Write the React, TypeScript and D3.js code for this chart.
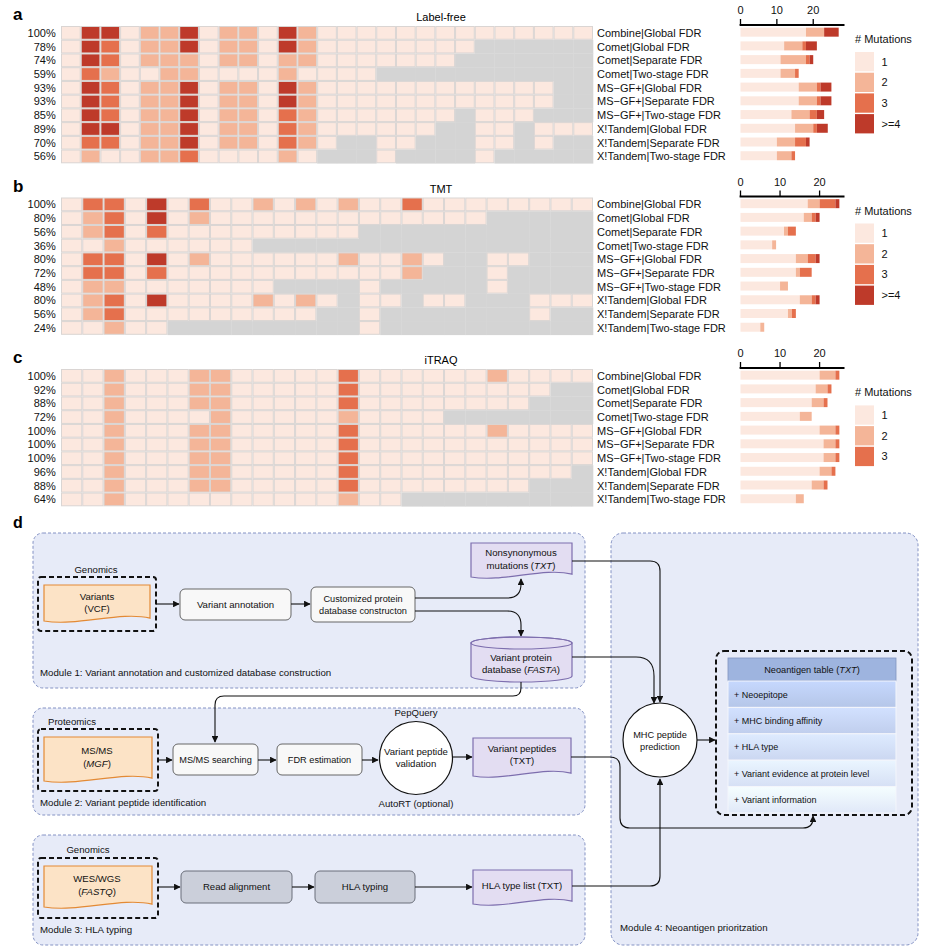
import React from "react";
import * as d3 from "d3";

const FONT = "'Liberation Sans', Arial, Helvetica, sans-serif";

const methodLabels = [
  "Combine|Global FDR", "Comet|Global FDR", "Comet|Separate FDR", "Comet|Two-stage FDR",
  "MS\u2212GF+|Global FDR", "MS\u2212GF+|Separate FDR", "MS\u2212GF+|Two-stage FDR",
  "X!Tandem|Global FDR", "X!Tandem|Separate FDR", "X!Tandem|Two-stage FDR",
];

const panelLetters = ["a", "b", "c"];
const panelTitles = ["Label-free", "TMT", "iTRAQ"];

const labelFreePct = ["100%", "78%", "74%", "59%", "93%", "93%", "85%", "89%", "70%", "56%"];
const tmtPct = ["100%", "80%", "56%", "36%", "80%", "72%", "48%", "80%", "56%", "24%"];
const itraqPct = ["100%", "92%", "88%", "72%", "100%", "100%", "100%", "96%", "88%", "64%"];

// 0 = not identified (grey); 1..4 = number of mutations (4 means >=4)
const labelFreeMatrix = [
  [1,4,4,1,2,2,4,1,2,2,1,4,2,1,1,1,1,1,1,1,1,1,1,1,1,1,1],
  [1,4,3,1,2,2,4,1,2,2,1,4,2,1,1,1,1,1,1,1,1,0,0,0,0,0,0],
  [1,4,3,1,2,2,2,1,2,2,1,2,2,1,1,1,1,1,1,1,0,0,0,0,0,0,0],
  [1,3,2,1,1,2,2,1,1,1,1,2,1,1,1,1,0,0,0,0,0,0,0,0,0,0,0],
  [1,4,3,1,2,2,4,1,2,2,1,4,2,1,1,1,1,1,1,1,1,1,1,1,1,0,0],
  [1,4,3,1,2,2,4,1,2,2,1,4,2,1,1,1,1,1,1,1,1,1,1,1,1,0,0],
  [1,4,3,1,2,2,4,1,2,2,1,3,2,1,1,1,1,1,1,1,0,1,1,1,0,0,0],
  [1,4,4,1,2,2,4,1,2,2,1,3,2,1,1,1,1,1,1,0,0,1,1,0,1,1,1],
  [1,3,3,1,2,2,4,1,2,2,1,3,2,1,0,0,1,1,0,0,0,1,1,0,1,0,0],
  [1,2,1,1,2,2,3,1,1,1,1,2,1,0,0,0,1,0,0,0,0,1,0,0,0,0,0],
];

const tmtMatrix = [
  [1,3,3,1,4,1,3,1,1,2,1,2,1,2,1,1,3,1,1,1,1,1,1,1,1],
  [1,2,3,1,4,1,2,1,1,1,1,1,1,1,1,1,1,1,1,1,0,0,0,0,0],
  [1,2,3,1,3,1,1,1,1,1,1,1,1,1,0,0,0,0,0,0,0,0,0,0,0],
  [1,1,2,1,1,1,1,1,1,0,0,0,0,0,0,0,0,0,0,0,0,0,0,0,0],
  [1,3,3,1,4,1,2,1,1,1,1,1,1,2,1,1,2,1,0,0,1,1,0,0,0],
  [1,3,3,1,3,1,1,1,1,1,1,1,1,1,1,1,2,0,0,0,1,0,0,0,0],
  [1,2,2,1,1,1,1,1,1,1,0,0,0,0,1,0,0,0,0,0,1,0,0,0,0],
  [1,2,3,1,4,1,1,1,1,2,1,2,1,0,1,1,0,1,1,0,0,0,1,1,1],
  [1,2,3,1,1,1,1,1,1,1,1,1,0,0,1,0,0,0,0,0,0,0,1,0,0],
  [1,1,2,1,1,0,0,0,0,0,0,0,0,0,1,0,0,0,0,0,0,0,0,0,0],
];

const itraqMatrix = [
  [1,1,2,1,1,1,2,2,1,1,1,1,1,3,1,1,1,1,1,1,2,1,1,1,1],
  [1,1,2,1,1,1,2,2,1,1,1,1,1,3,1,1,1,1,1,1,1,1,1,0,0],
  [1,1,2,1,1,1,2,2,1,1,1,1,1,3,1,1,1,1,1,1,1,1,0,0,0],
  [1,1,2,1,1,1,1,2,1,1,1,1,1,2,1,1,1,1,0,0,0,0,0,0,0],
  [1,1,2,1,1,1,2,2,1,1,1,1,1,3,1,1,1,1,1,1,2,1,1,1,1],
  [1,1,2,1,1,1,2,2,1,1,1,1,1,3,1,1,1,1,1,1,1,1,1,1,1],
  [1,1,2,1,1,1,2,2,1,1,1,1,1,3,1,1,1,1,1,1,1,1,1,1,1],
  [1,1,2,1,1,1,2,2,1,1,1,1,1,3,1,1,1,1,1,1,1,1,1,1,0],
  [1,1,2,1,1,1,2,2,1,1,1,1,1,3,1,1,1,1,1,1,1,1,0,0,0],
  [1,1,2,1,1,1,1,1,1,1,1,1,1,2,1,1,0,0,0,0,0,0,0,0,0],
];

const legendFour = ["1", "2", "3", ">=4"];
const legendThree = ["1", "2", "3"];
const axisTicks = [0, 10, 20];
const axisMaxes = [28.6, 26.3, 26.3];

const levelColors = ["#D4D4D4", "#FCE8DF", "#F4B598", "#E5704D", "#BE3A2A"];

type PanelProps = {
  letter: string; title: string; matrix: number[][]; pcts: string[];
  legend: string[]; top: number; axisMax: number;
};

function HeatPanel({ letter, title, matrix, pcts, legend, top, axisMax }: PanelProps) {
  const nCols = matrix[0].length;
  const nRows = matrix.length;
  const x = d3.scaleBand<number>().domain(d3.range(nCols)).range([61, 593]);
  const y = d3.scaleBand<number>().domain(d3.range(nRows)).range([top, top + 137.3]);
  const xb = d3.scaleLinear().domain([0, axisMax]).range([740.5, 844.5]);
  const keys = legend.map((_, i) => String(i + 1));
  const counts = matrix.map((row) => {
    const o: any = {};
    keys.forEach((k) => (o[k] = row.filter((v) => v === +k).length));
    return o;
  });
  const series = d3.stack<any>().keys(keys)(counts);
  const axisY = top - 1;
  const bh = 9;
  const legTop = top + 26 + (4 - legend.length) * 10.4;
  const cells: any[] = [];
  matrix.forEach((row, r) => row.forEach((v, c) => cells.push({ r, c, v })));
  return (
    <g>
      <text x={13} y={top - 6} fontSize={17} fontWeight="bold" fontFamily={FONT}>{letter}</text>
      <text x={441} y={top - 5} fontSize={11} textAnchor="middle" fontFamily={FONT}>{title}</text>
      {cells.filter((d) => d.v === 0).map((d) => (
        <rect key={`g${d.r}-${d.c}`} x={x(d.c)} y={y(d.r)} width={x.bandwidth() + 0.3} height={y.bandwidth() + 0.3}
          fill={levelColors[0]} />
      ))}
      {cells.filter((d) => d.v > 0).map((d) => (
        <rect key={`c${d.r}-${d.c}`} x={x(d.c)! + 0.5} y={y(d.r)! + 0.5} width={x.bandwidth() - 1} height={y.bandwidth() - 1}
          fill={levelColors[d.v]} stroke="#DAD5D3" strokeWidth={1} />
      ))}
      {pcts.map((p, i) => (
        <text key={p + i} x={55.7} y={y(i)! + y.bandwidth() / 2} dy="0.36em" textAnchor="end" fontSize={11} fontFamily={FONT} fill="#111">{p}</text>
      ))}
      {methodLabels.map((m, i) => (
        <text key={m} x={597} y={y(i)! + y.bandwidth() / 2} dy="0.36em" fontSize={11} fontFamily={FONT} fill="#111">{m}</text>
      ))}
      <line x1={xb(0) - 0.9} x2={xb(axisMax)} y1={axisY} y2={axisY} stroke="#000" strokeWidth={1.8} />
      {axisTicks.map((t) => (
        <g key={t}>
          <line x1={xb(t)} x2={xb(t)} y1={axisY} y2={axisY - 6} stroke="#000" strokeWidth={1.3} />
          <text x={xb(t)} y={axisY - 11} textAnchor="middle" fontSize={11} fontFamily={FONT} fill="#111">{t}</text>
        </g>
      ))}
      {series.map((s, si) => s.map((d, i) => (
        d[1] > d[0] ? (
          <rect key={`b${si}-${i}`} x={xb(d[0])} y={y(i)! + (y.bandwidth() - bh) / 2 - 0.7} width={xb(d[1]) - xb(d[0])} height={bh}
            fill={levelColors[si + 1]} />
        ) : null
      )))}
      <text x={855} y={legTop - 9} fontSize={11} fontFamily={FONT} fill="#111">{"# Mutations"}</text>
      {legend.map((l, i) => (
        <g key={l}>
          <rect x={855} y={legTop + i * 20.7} width={19} height={19.3} fill={levelColors[i + 1]} />
          <text x={881.5} y={legTop + i * 20.7 + 9.6} dy="0.36em" fontSize={11} fontFamily={FONT} fill="#111">{l}</text>
        </g>
      ))}
    </g>
  );
}

function docPath(x: number, y: number, w: number, h: number) {
  const d = 4;
  return `M${x},${y} H${x + w} V${y + h - d * 1.2} C${x + w * 0.72},${y + h - d * 3} ${x + w * 0.32},${y + h + d * 0.9} ${x},${y + h - d * 0.5} Z`;
}

function cylPath(x: number, y: number, w: number, h: number, ry: number) {
  return `M${x},${y + ry} V${y + h - ry} A${w / 2},${ry} 0 0 0 ${x + w},${y + h - ry} V${y + ry} A${w / 2},${ry} 0 0 0 ${x},${y + ry} Z`;
}

const ORANGE_FILL = "#FCE3C6";
const ORANGE_STROKE = "#E38A35";
const PURPLE_FILL = "#E3DDF2";
const PURPLE_STROKE = "#7D6EAE";
const MOD_FILL = "#E7EBF8";
const MOD_STROKE = "#8492C4";
const FS = 9.6;

function T({ x, y, children, size = FS, anchor = "middle", weight = "normal" }: any) {
  return (
    <text x={x} y={y} fontSize={size} textAnchor={anchor} fontWeight={weight} fontFamily={FONT} fill="#111">{children}</text>
  );
}

function Box({ x, y, w, h, fill = "#F8F8F8", stroke = "#666" }: any) {
  return <rect x={x} y={y} width={w} height={h} rx={5} fill={fill} stroke={stroke} strokeWidth={1} />;
}

const neoRows = ["+ Neoepitope", "+ MHC binding affinity", "+ HLA type", "+ Variant evidence at protein level", "+ Variant information"];
const neoRowColors = ["#B5C6E8", "#C0CEED", "#CBD7F1", "#D6E0F5", "#E0E8F8"];

function PanelD() {
  const A = "url(#arr)";
  const ln = { fill: "none", stroke: "#111", strokeWidth: 1.1 } as any;
  return (
    <g>
      <defs>
        <marker id="arr" viewBox="0 0 10 10" refX="9" refY="5" markerWidth="6" markerHeight="6" orient="auto-start-reverse">
          <path d="M0,0 L10,5 L0,10 z" fill="#111" />
        </marker>
        {neoRowColors.map((c, i) => (
          <linearGradient key={i} id={`ng${i}`} x1="0" y1="0" x2="0" y2="1">
            <stop offset="0" stopColor={d3.color(c)!.brighter(0.25).toString()} />
            <stop offset="1" stopColor={c} />
          </linearGradient>
        ))}
      </defs>
      <text x={13} y={528} fontSize={16} fontWeight="bold" fontFamily={FONT}>d</text>

      <rect x={33} y={533} width={552} height={155} rx={10} fill={MOD_FILL} stroke={MOD_STROKE} strokeDasharray="3,2" />
      <rect x={33} y={708} width={552} height={107} rx={10} fill={MOD_FILL} stroke={MOD_STROKE} strokeDasharray="3,2" />
      <rect x={33} y={835} width={552} height={110} rx={10} fill={MOD_FILL} stroke={MOD_STROKE} strokeDasharray="3,2" />
      <rect x={611} y={533} width={307} height={412} rx={12} fill={MOD_FILL} stroke={MOD_STROKE} strokeDasharray="3,2" />

      {/* Module 1 */}
      <T x={96} y={573}>Genomics</T>
      <rect x={38} y={577} width={118} height={54} rx={3} fill="none" stroke="#111" strokeWidth={2} strokeDasharray="5,3" />
      <path d={docPath(44, 585, 106, 38)} fill={ORANGE_FILL} stroke={ORANGE_STROKE} strokeWidth={1.2} />
      <T x={97} y={600}>Variants</T>
      <T x={97} y={612}>(VCF)</T>
      <path d="M156,604 H179" {...ln} markerEnd={A} />
      <Box x={180} y={589} w={111} h={31} />
      <T x={235.5} y={608}>Variant annotation</T>
      <path d="M291,604 H310" {...ln} markerEnd={A} />
      <Box x={311} y={587} w={104} h={35} />
      <T x={363} y={602} size={9.2}>Customized protein</T>
      <T x={363} y={614} size={9.2}>database constructon</T>
      <path d="M415,598 H507 Q521,598 521,584 V579" {...ln} markerEnd={A} />
      <path d="M415,611 H507 Q521,611 521,625 V636" {...ln} markerEnd={A} />
      <path d={docPath(471, 543, 101, 36)} fill={PURPLE_FILL} stroke={PURPLE_STROKE} strokeWidth={1.2} />
      <T x={521} y={556}>Nonsynonymous</T>
      <text x={521} y={569} fontSize={FS} textAnchor="middle" fontFamily={FONT} fill="#111">mutations (<tspan fontStyle="italic">TXT</tspan>)</text>
      <path d={cylPath(471, 637, 101, 45, 6)} fill={PURPLE_FILL} stroke={PURPLE_STROKE} strokeWidth={1.2} />
      <ellipse cx={521.5} cy={643} rx={50.5} ry={6} fill="none" stroke={PURPLE_STROKE} strokeWidth={1.2} />
      <T x={521} y={661}>Variant protein</T>
      <text x={521} y={673} fontSize={FS} textAnchor="middle" fontFamily={FONT} fill="#111">database (<tspan fontStyle="italic">FASTA</tspan>)</text>
      <T x={40} y={676} anchor="start" size={9.7}>Module 1: Variant annotation and customized database construction</T>

      <path d="M572,561 H650 Q660,561 660,571 V702" {...ln} markerEnd={A} />
      <path d="M572,657 H636 Q654,657 654,676 V703" {...ln} markerEnd={A} />
      <path d="M521,682 V688 Q521,696 513,696 H224 Q215,696 215,705 V742" {...ln} markerEnd={A} />

      {/* Module 2 */}
      <T x={72} y={725}>Proteomics</T>
      <rect x={38} y={729} width={120} height={62} rx={3} fill="none" stroke="#111" strokeWidth={2} strokeDasharray="5,3" />
      <path d={docPath(44, 737, 108, 46)} fill={ORANGE_FILL} stroke={ORANGE_STROKE} strokeWidth={1.2} />
      <T x={97} y={754}>MS/MS</T>
      <text x={97} y={767} fontSize={FS} textAnchor="middle" fontFamily={FONT} fill="#111">(<tspan fontStyle="italic">MGF</tspan>)</text>
      <path d="M158,760 H172" {...ln} markerEnd={A} />
      <Box x={173} y={744} w={85} h={31} />
      <T x={215.5} y={763} size={9.2}>MS/MS searching</T>
      <path d="M258,760 H276" {...ln} markerEnd={A} />
      <Box x={277} y={744} w={85} h={31} />
      <T x={319.5} y={763} size={9.2}>FDR estimation</T>
      <path d="M362,760 H378" {...ln} markerEnd={A} />
      <circle cx={416} cy={758} r={36.5} fill="#fff" stroke="#111" strokeWidth={1.2} />
      <T x={416} y={755}>Variant peptide</T>
      <T x={416} y={767}>validation</T>
      <T x={416} y={716}>PepQuery</T>
      <T x={416} y={807}>AutoRT (optional)</T>
      <path d="M452.5,757 H472" {...ln} markerEnd={A} />
      <path d={docPath(473, 738, 98, 40)} fill={PURPLE_FILL} stroke={PURPLE_STROKE} strokeWidth={1.2} />
      <T x={522} y={752}>Variant peptides</T>
      <T x={522} y={764}>(TXT)</T>
      <T x={40} y={806} anchor="start" size={9.7}>Module 2: Variant peptide identification</T>
      <path d="M571,757 H610 Q620,757 620,767 V818 Q620,828 630,828 H803 Q813,828 813,818 V816" {...ln} markerEnd={A} />

      {/* Module 3 */}
      <T x={88} y={853}>Genomics</T>
      <rect x={38} y={858} width={120} height={60} rx={3} fill="none" stroke="#111" strokeWidth={2} strokeDasharray="5,3" />
      <path d={docPath(44, 866, 108, 43)} fill={ORANGE_FILL} stroke={ORANGE_STROKE} strokeWidth={1.2} />
      <T x={97} y={882}>WES/WGS</T>
      <text x={97} y={895} fontSize={FS} textAnchor="middle" fontFamily={FONT} fill="#111">(<tspan fontStyle="italic">FASTQ</tspan>)</text>
      <path d="M158,887 H180" {...ln} markerEnd={A} />
      <Box x={181} y={871} w={111} h={32} fill="#CBCFDA" stroke="#6B6F7A" />
      <T x={236.5} y={890}>Read alignment</T>
      <path d="M292,887 H314" {...ln} markerEnd={A} />
      <Box x={315} y={871} w={100} h={32} fill="#CBCFDA" stroke="#6B6F7A" />
      <T x={365} y={890}>HLA typing</T>
      <path d="M415,887 H472" {...ln} markerEnd={A} />
      <path d={docPath(473, 870, 99, 36)} fill={PURPLE_FILL} stroke={PURPLE_STROKE} strokeWidth={1.2} />
      <T x={522} y={889}>HLA type list (TXT)</T>
      <T x={40} y={933} anchor="start" size={9.7}>Module 3: HLA typing</T>
      <path d="M572,886 H650 Q660,886 660,876 V779" {...ln} markerEnd={A} />

      {/* Module 4 */}
      <circle cx={660} cy={740} r={37} fill="#fff" stroke="#111" strokeWidth={1.2} />
      <T x={660} y={738} size={9.2}>MHC peptide</T>
      <T x={660} y={750} size={9.2}>prediction</T>
      <path d="M697,740 H715" {...ln} markerEnd={A} />
      <rect x={716} y={651} width={196} height={164} rx={8} fill="none" stroke="#111" strokeWidth={2} strokeDasharray="5,3" />
      <rect x={728} y={658} width={168} height={23} fill="#9EB4DF" stroke="#7F93BF" strokeWidth={0.8} />
      <text x={812} y={673} fontSize={9.2} textAnchor="middle" fontFamily={FONT} fill="#111">Neoantigen table (<tspan fontStyle="italic">TXT</tspan>)</text>
      {neoRows.map((r, i) => (
        <g key={r}>
          <rect x={728} y={681 + i * 26.4} width={168} height={26.4} fill={`url(#ng${i})`} stroke="#F4F6FB" strokeWidth={1} />
          <T x={734} y={681 + i * 26.4 + 16.5} anchor="start" size={9}>{r}</T>
        </g>
      ))}
      <T x={620} y={931} anchor="start" size={9.7}>Module 4: Neoantigen prioritzation</T>
    </g>
  );
}

export default function App() {
  const matrices = [labelFreeMatrix, tmtMatrix, itraqMatrix];
  const pcts = [labelFreePct, tmtPct, itraqPct];
  const legends = [legendFour, legendFour, legendThree];
  const tops = [26, 197.5, 369];
  return (
    <svg width={936} height={951} style={{ position: "absolute", left: 0, top: 0, background: "#fff" }} fontFamily={FONT}>
      <rect width={936} height={951} fill="#fff" />
      {matrices.map((m, i) => (
        <HeatPanel key={i} letter={panelLetters[i]} title={panelTitles[i]} matrix={m} pcts={pcts[i]}
          legend={legends[i]} top={tops[i]} axisMax={axisMaxes[i]} />
      ))}
      <PanelD />
    </svg>
  );
}
